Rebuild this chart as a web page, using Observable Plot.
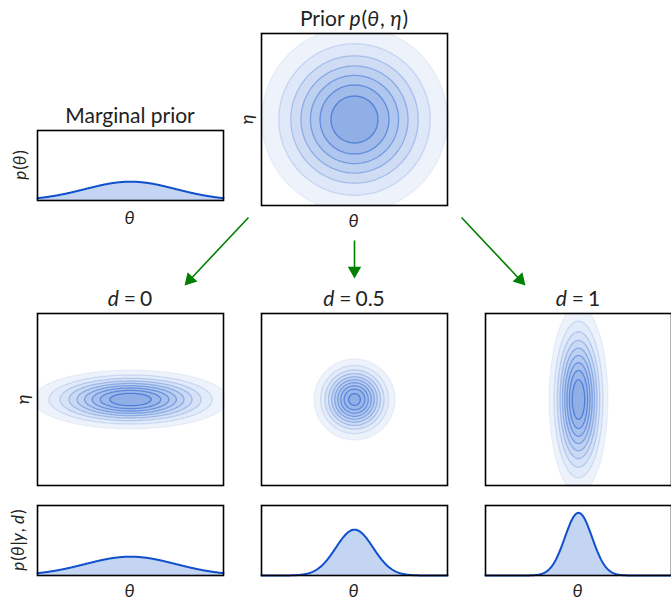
<!DOCTYPE html>
<html><head><meta charset="utf-8">
<script src="https://cdn.jsdelivr.net/npm/d3@7"></script>
<script src="https://cdn.jsdelivr.net/npm/@observablehq/plot@0.6"></script>
<style>
html,body{margin:0;padding:0;background:#fff;overflow:hidden}
#fig{position:relative;width:671px;height:600px;overflow:hidden;font-family:Lato,"DejaVu Sans",sans-serif;color:#222}
.lab{position:absolute;white-space:nowrap;line-height:1;transform:translate(-50%,-50%)}
.lab.rot{transform:translate(-50%,-50%) rotate(-90deg)}
.lab i{padding-right:1px}
.eq{padding:0 4px}
.panel{position:absolute}
</style></head><body><div id="fig"></div>
<script>
// ---------- data ----------
const designs = ["0", "0.5", "1"];             // design values d
const priorSigmaTheta = 1.0;                   // prior std of theta
const priorSigmaEta = 1.0;                     // prior std of eta
const postSigmaTheta = [1.0, 0.41, 0.30];      // posterior std of theta for each d
const postSigmaEta = [0.30, 0.41, 0.96];       // posterior std of eta for each d
const priorLevelStep = 0.125, priorLevelCount = 7;   // contour levels (fraction of peak)
const postLevelStep = [0.1, 0.095, 0.1];
const postLevelCount = [9, 10, 9];
const thetaDomain = [-2.045, 2.045];
const etaDomain = [-1.89, 1.89];
const densityDomain = [0, 1.485];

// ---------- layout / style ----------
const W = 186, H2 = 172, HM = 70;
const colLeft = [37, 261, 485];
const priorLeft = 261, priorTop = 33, margPriorTop = 130;
const postTop = 313, postMargTop = 505;
const fillLight = "#eef3fb", fillDark = "#90afe7", lineBlue = "#2f66d0";
const margLine = "#1150cc", margFill = "#c3d5f2";
const titleSize = 21, labelSize = 18;

const fig = document.getElementById("fig");
const gauss = (x, s) => Math.exp(-x * x / (2 * s * s)) / (s * Math.sqrt(2 * Math.PI));

function place(node, left, top) {
  node.classList.add("panel");
  node.style.left = left + "px";
  node.style.top = top + "px";
  fig.appendChild(node);
}

function panel2d(st, se, step, n, left, top) {
  const f = (x, y) => Math.exp(-0.5 * (x * x / (st * st) + y * y / (se * se)));
  const marks = [];
  for (let k = 1; k <= n; ++k) {
    const t = k * step;
    const c = d3.interpolateRgb(fillLight, fillDark)((k - 1) / (n - 1));
    marks.push(Plot.contour({
      value: f, x1: thetaDomain[0], x2: thetaDomain[1], y1: etaDomain[0], y2: etaDomain[1],
      thresholds: [t], fill: c, stroke: lineBlue,
      strokeOpacity: 0.08 + 0.6 * (k - 1) / (n - 1), strokeWidth: 1.3
    }));
  }
  marks.push(Plot.frame({stroke: "black", strokeWidth: 1.6}));
  const p = Plot.plot({
    width: W + 4, height: H2 + 4, margin: 2,
    x: {domain: thetaDomain, axis: null}, y: {domain: etaDomain, axis: null},
    style: {background: "transparent", overflow: "visible"},
    marks
  });
  place(p, left - 2, top - 2);
}

function panelMarg(s, left, top) {
  const n = 240;
  const pts = d3.range(n + 1).map(i => {
    const x = thetaDomain[0] + i * (thetaDomain[1] - thetaDomain[0]) / n;
    return {theta: x, p: gauss(x, s)};
  });
  const p = Plot.plot({
    width: W + 4, height: HM + 4, margin: 2,
    x: {domain: thetaDomain, axis: null}, y: {domain: densityDomain, axis: null},
    style: {background: "transparent", overflow: "visible"},
    marks: [
      Plot.areaY(pts, {x: "theta", y: "p", fill: margFill}),
      Plot.lineY(pts, {x: "theta", y: "p", stroke: margLine, strokeWidth: 2}),
      Plot.frame({stroke: "black", strokeWidth: 1.6})
    ]
  });
  place(p, left - 2, top - 2);
}

function label(html, cx, cy, size, rot) {
  const d = document.createElement("div");
  d.className = "lab" + (rot ? " rot" : "");
  d.innerHTML = html;
  d.style.left = cx + "px";
  d.style.top = cy + "px";
  d.style.fontSize = size + "px";
  fig.appendChild(d);
}

// prior joint
panel2d(priorSigmaTheta, priorSigmaEta, priorLevelStep, priorLevelCount, priorLeft, priorTop);
// marginal prior
panelMarg(priorSigmaTheta, colLeft[0], margPriorTop);
// posteriors
designs.forEach((d, i) => {
  panel2d(postSigmaTheta[i], postSigmaEta[i], postLevelStep[i], postLevelCount[i], colLeft[i], postTop);
  panelMarg(postSigmaTheta[i], colLeft[i], postMargTop);
  label(`<i>d</i><span class="eq">=</span>${d}`, colLeft[i] + W / 2, postTop - 16, titleSize);
  label(`<i>θ</i>`, colLeft[i] + W / 2, postMargTop + HM + 15, labelSize);
});

// labels
const pcx = priorLeft + W / 2;
label(`Prior <i>p</i>(<i>θ</i>, <i>η</i>)`, pcx, priorTop - 16, titleSize);
label(`<i>θ</i>`, pcx, priorTop + H2 + 15, labelSize);
label(`<i>η</i>`, priorLeft - 15, priorTop + H2 / 2, labelSize, true);
label(`Marginal prior`, colLeft[0] + W / 2, margPriorTop - 16, titleSize);
label(`<i>θ</i>`, colLeft[0] + W / 2, margPriorTop + HM + 17, labelSize);
label(`<i>p</i>(<i>θ</i>)`, colLeft[0] - 18, margPriorTop + HM / 2, labelSize - 1, true);
label(`<i>η</i>`, colLeft[0] - 15, postTop + H2 / 2, labelSize, true);
label(`<i>p</i>(<i>θ</i>|<i>y</i>, <i>d</i>)`, colLeft[0] - 20, postMargTop + HM / 2, labelSize - 1, true);

// arrows from prior to each design's posterior
const pBottom = priorTop + H2;
const arrows = [
  {x1: priorLeft - 13, y1: pBottom + 12, tx: colLeft[0] + W / 2 + 54, ty: postTop - 28},
  {x1: pcx, y1: pBottom + 35, tx: pcx, ty: postTop - 35},
  {x1: priorLeft + W + 14, y1: pBottom + 12, tx: colLeft[2] + W / 2 - 53, ty: postTop - 28}
].map(a => {
  const dx = a.tx - a.x1, dy = a.ty - a.y1, L = Math.hypot(dx, dy);
  const ux = dx / L, uy = dy / L;
  return {
    x1: a.x1, y1: a.y1, x2: a.tx - 8 * ux, y2: a.ty - 8 * uy,
    hx: a.tx - 7.8 * ux, hy: a.ty - 7.8 * uy,
    rot: Math.atan2(dx, -dy) * 180 / Math.PI
  };
});
const overlay = Plot.plot({
  width: 671, height: 600, margin: 0,
  x: {domain: [0, 671], range: [0, 671], axis: null},
  y: {domain: [0, 600], range: [0, 600], axis: null},
  style: {background: "transparent", overflow: "visible"},
  marks: [
    Plot.link(arrows, {x1: "x1", y1: "y1", x2: "x2", y2: "y2", stroke: "#008000", strokeWidth: 1.6}),
    Plot.dot(arrows, {x: "hx", y: "hy", symbol: "triangle", r: 5, rotate: "rot", fill: "#008000", stroke: "none"})
  ]
});
overlay.style.pointerEvents = "none";
place(overlay, 0, 0);
</script></body></html>
